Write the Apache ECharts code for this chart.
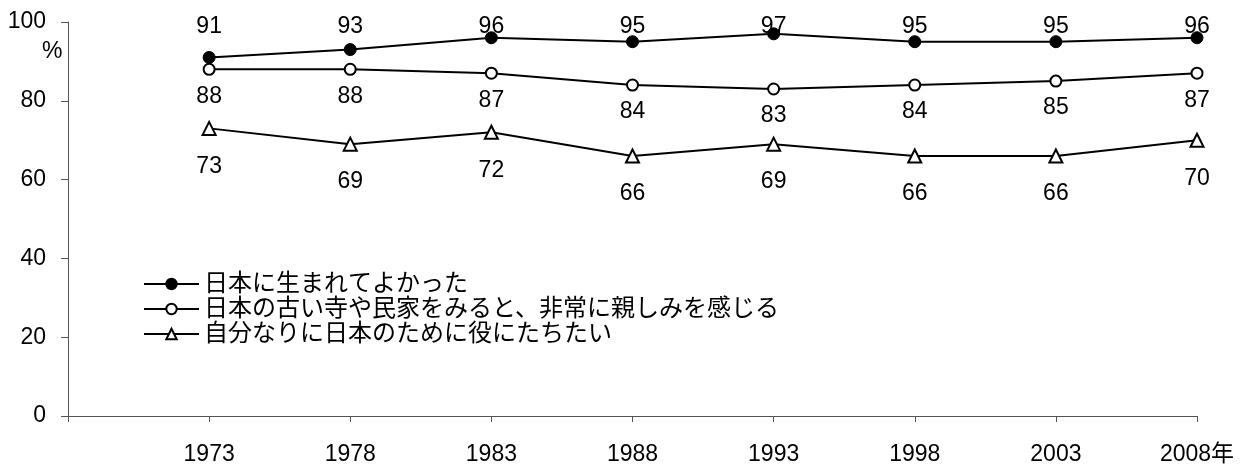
<!DOCTYPE html>
<html>
<head>
<meta charset="utf-8">
<script src="https://cdn.jsdelivr.net/npm/echarts@6/dist/echarts.min.js"></script>
<style>
html,body{margin:0;padding:0;background:#fff;}
#chart{width:1247px;height:464px;}
</style>
</head>
<body>
<div id="chart"></div>
<script>
const years = [1973, 1978, 1983, 1988, 1993, 1998, 2003, 2008];
const seriesNames = [
  '日本に生まれてよかった',
  '日本の古い寺や民家をみると、非常に親しみを感じる',
  '自分なりに日本のために役にたちたい'
];
const glad = [91, 93, 96, 95, 97, 95, 95, 96];
const familiar = [88, 88, 87, 84, 83, 84, 85, 87];
const contribute = [73, 69, 72, 66, 69, 66, 66, 70];
const yTicks = [0, 20, 40, 60, 80, 100];
const unitLabel = '%';
const yearSuffix = '年';

const FONT = "'Liberation Sans', 'Noto Sans CJK JP', sans-serif";
const GRID = {left: 68, right: 50, top: 22, bottom: 48, outerBoundsMode: 'none'};

function pairs(vals) { return years.map((y, i) => [y, vals[i]]); }

const chart = echarts.init(document.getElementById('chart'), null, {renderer: 'canvas'});
const baseLabel = {show: true, color: '#000', fontSize: 23, fontFamily: FONT};

chart.setOption({
  animation: false,
  backgroundColor: '#fff',
  grid: GRID,
  xAxis: {
    type: 'value',
    min: years[0] - 5,
    max: years[years.length - 1],
    interval: 5,
    splitLine: {show: false},
    axisLine: {show: true, lineStyle: {color: '#555', width: 1}},
    axisTick: {show: true, length: 6, lineStyle: {color: '#555'}},
    axisLabel: {
      show: true, color: '#000', fontSize: 23, fontFamily: FONT, margin: 27,
      showMinLabel: true, showMaxLabel: true,
      formatter: function (v) {
        if (years.indexOf(v) < 0) return '';
        return v === years[years.length - 1] ? v + yearSuffix : String(v);
      }
    }
  },
  yAxis: {
    type: 'value',
    min: yTicks[0],
    max: yTicks[yTicks.length - 1],
    interval: 20,
    splitLine: {show: false},
    axisLine: {show: true, lineStyle: {color: '#555', width: 1}},
    axisTick: {show: true, length: 7, lineStyle: {color: '#555'}},
    axisLabel: {color: '#000', fontSize: 23, fontFamily: FONT, margin: 22}
  },
  legend: {
    orient: 'vertical',
    left: 138,
    top: 267,
    itemWidth: 55,
    itemHeight: 13,
    itemGap: 1,
    textStyle: {color: '#000', fontSize: 24, fontFamily: FONT, lineHeight: 24},
    data: seriesNames
  },
  graphic: [{
    type: 'text', left: 42, top: 40,
    style: {text: unitLabel, fill: '#000', fontSize: 23, fontFamily: FONT}
  }],
  series: [
    {
      name: seriesNames[0], type: 'line', data: pairs(glad),
      symbol: 'circle', symbolSize: 12,
      lineStyle: {color: '#000', width: 2},
      itemStyle: {color: '#000', borderColor: '#000', borderWidth: 1},
      label: Object.assign({}, baseLabel, {position: 'top', distance: 8}),
      labelLayout: function (p) {
        return {
          x: p.rect.x + p.rect.width / 2,
          y: GRID.top + 5,
          align: 'center',
          verticalAlign: 'middle'
        };
      }
    },
    {
      name: seriesNames[1], type: 'line', data: pairs(familiar),
      symbol: 'circle', symbolSize: 11,
      lineStyle: {color: '#000', width: 2},
      itemStyle: {color: '#fff', borderColor: '#000', borderWidth: 2},
      label: Object.assign({}, baseLabel, {position: 'bottom', distance: 9})
    },
    {
      name: seriesNames[2], type: 'line', data: pairs(contribute),
      symbol: 'triangle', symbolSize: 13,
      lineStyle: {color: '#000', width: 2},
      itemStyle: {color: '#fff', borderColor: '#000', borderWidth: 2},
      label: Object.assign({}, baseLabel, {position: 'bottom', distance: 19})
    }
  ]
});
</script>
</body>
</html>
